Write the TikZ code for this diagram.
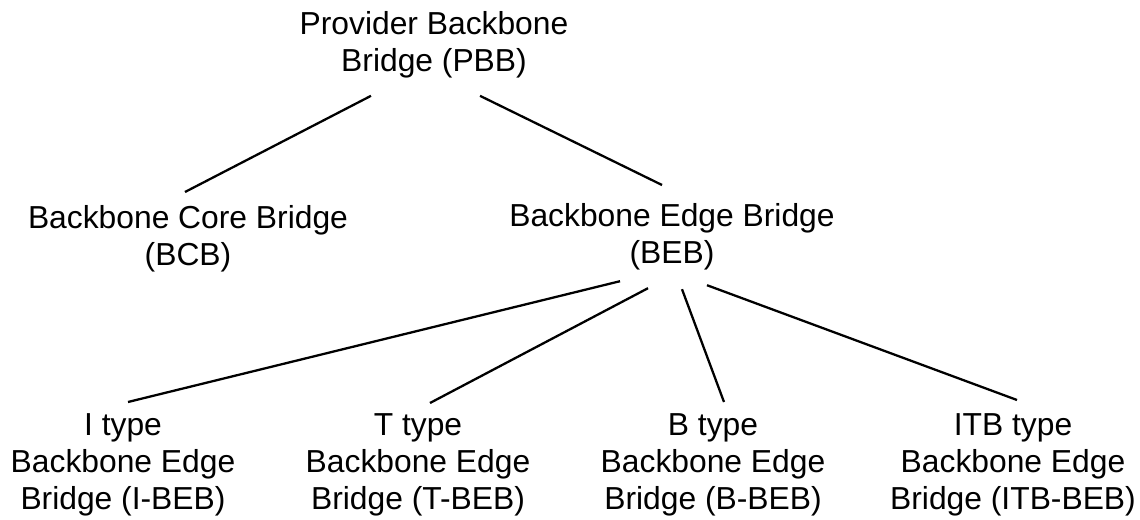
\documentclass[tikz,border=0pt]{standalone}
\usepackage{fontspec}
\setmainfont{Liberation Sans}
\usetikzlibrary{calc}
\begin{document}
\begin{tikzpicture}[x=0.02cm,y=-0.02cm,line width=1.3pt,
  every node/.style={font=\fontsize{18.1}{21}\selectfont,align=center,anchor=north,inner sep=0pt}]
\useasboundingbox (0,0) rectangle (1140,520);
% top two levels
\node (pbb) at (434,10) {Provider Backbone\\Bridge (PBB)};
\node (bcb) at (188,204.4) {Backbone Core Bridge\\(BCB)};
\node (beb) at (672,202.4) {Backbone Edge Bridge\\(BEB)};
% the four kinds of edge bridge
\foreach \n/\x/\typ in {ibeb/123/I, tbeb/418/T, bbeb/713/B, itbbeb/1013/ITB} {
  \node (\n) at (\x,412.4) {\typ{} type\\Backbone Edge\\Bridge (\typ-BEB)};
}
\draw ($(pbb.south)+(-63,17)$) -- ($(bcb.north)+(-3,-12.4)$);
\draw ($(pbb.south)+(46,17)$) -- ($(beb.north)+(-10,-17.4)$);
\foreach \n/\a/\b/\c/\d in {ibeb/-52/10/5/-10.4, tbeb/-24/17/12/-9.4, bbeb/10/18/11/-10.4, itbbeb/35/14/4/-12.4} {
  \draw ($(beb.south)+(\a,\b)$) -- ($(\n.north)+(\c,\d)$);
}
\end{tikzpicture}
\end{document}
